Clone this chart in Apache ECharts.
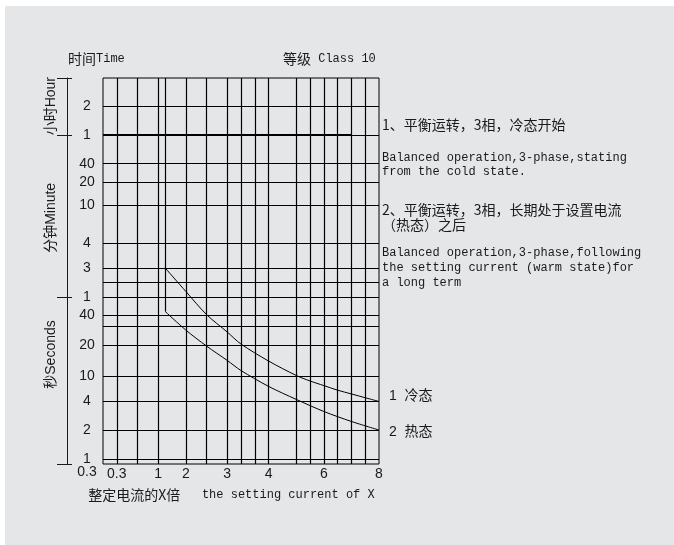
<!DOCTYPE html>
<html>
<head>
<meta charset="utf-8">
<script src="https://cdn.jsdelivr.net/npm/echarts@6/dist/echarts.min.js"></script>
<style>
html, body { margin: 0; padding: 0; }
body {
  width: 674px;
  height: 545px;
  background: #fff linear-gradient(#e5e6e8, #e5e6e8) 5px 6px / 669px 539px no-repeat;
}
#main { width: 674px; height: 545px; }
</style>
</head>
<body>
<div id="main"></div>
<script>
// 横轴：整定电流倍数
var xTickVal = [0.3, 1, 2, 3, 4, 6, 8];
var xTickLabel = ["0.3", "1", "2", "3", "4", "6", "8"];
var xGridVal = [0.3, 0.65, 1, 2, 2.5, 3, 3.33, 3.67, 4, 5, 5.5, 6, 6.5, 7, 7.5];

// 纵轴：时间（秒）
var yGridSec = [1, 2, 4, 10, 20, 30, 40, 60, 120, 180, 240, 600, 1200, 2400, 3600, 7200];
var yLabelSec = [1, 2, 4, 10, 20, 40, 60, 180, 240, 600, 1200, 2400, 3600, 7200];
var yLabelText = ["1", "2", "4", "10", "20", "40", "1", "3", "4", "10", "20", "40", "1", "2"];
var cornerSec = 0.3;
var cornerText = "0.3";

// 左侧单位 秒 / 分钟 / 小时
var unitSec = [0.3, 60, 3600, 14400];
var unitLabelSec = [17, 480, 7200];
var unitLabelText = ["秒Seconds", "分钟Minute", "小时Hour"];

// 1 冷态
var coldI = [1.25, 2, 2.5, 3, 3.33, 4, 5, 5.5, 6, 6.5, 7, 7.5, 8];
var coldT = [180, 83, 40.5, 26.8, 20.6, 14.9, 10.3, 8.9, 7.8, 6.7, 5.8, 4.9, 4];
// 2 热态
var warmI = [1.25, 2, 2.5, 3, 3.33, 4, 5, 6, 7, 8];
var warmT = [44, 27.8, 19.7, 15.1, 11.9, 7.6, 4.5, 3.3, 2.6, 2];

// 图上刻度不等距，按分段线性换算到 0~100
var xScaleVal = [0, 0.3, 1, 2, 3, 4, 6, 8];
var xScalePos = [0, 5, 20, 30, 45, 60, 80, 100];
var yScaleSec = [0.3, 1, 2, 4, 10, 20, 30, 40, 60, 120, 180, 240, 600, 1200, 2400, 3600, 7200, 14400];
var yScalePos = [0, 1.3, 8.8, 16.2, 22.7, 30.8, 35.8, 38.6, 43.3, 47.0, 50.8, 57.1, 67.1, 73.0, 77.8, 85.2, 92.7, 100];

function interp(v, vs, ps) {
  for (var i = 0; i < vs.length - 1; i++) {
    if (v <= vs[i + 1] || i == vs.length - 2) {
      return ps[i] + ((v - vs[i]) / (vs[i + 1] - vs[i])) * (ps[i + 1] - ps[i]);
    }
  }
}
function xs(v) { return interp(v, xScaleVal, xScalePos); }
function ys(v) { return interp(v, yScaleSec, yScalePos); }
function pick(v, vals, fn, texts) {
  for (var i = 0; i < vals.length; i++) {
    if (Math.abs(fn(vals[i]) - v) < 1e-6) return texts[i];
  }
  return "";
}

var myChart = echarts.init(document.getElementById("main"));

var gridLines = [];
xGridVal.forEach(function (v) { gridLines.push({ xAxis: xs(v) }); });
yGridSec.forEach(function (v) { gridLines.push({ yAxis: ys(v) }); });
// 1.25倍处竖线只画到热态曲线起点
gridLines.push([{ coord: [xs(1.25), 100] }, { coord: [xs(1.25), ys(warmT[0])] }]);
// 1小时粗线
gridLines.push([
  { coord: [0, ys(3600)], lineStyle: { width: 2, color: "#000" } },
  { coord: [xs(7), ys(3600)] },
]);

var monoFont = "'Liberation Mono', 'DejaVu Sans Mono', 'Noto Sans CJK SC', monospace";
var cjkFont = "'Noto Sans CJK SC', 'Liberation Sans', sans-serif";
var numFont = "'Liberation Sans', 'Noto Sans CJK SC', sans-serif";
var textColor = "#1a1a1a";

var option = {
  animation: false,
  title: [
    {
      text: "{a|时间}{b|Time}",
      left: 68,
      top: 52,
      padding: 0,
      textStyle: {
        fontWeight: "normal",
        rich: {
          a: { fontFamily: cjkFont, fontSize: 14, fontWeight: "normal", color: textColor },
          b: { fontFamily: monoFont, fontSize: 12, fontWeight: "normal", color: textColor },
        },
      },
    },
    {
      text: "{a|等级}{b| Class 10}",
      left: 283,
      top: 52,
      padding: 0,
      textStyle: {
        fontWeight: "normal",
        rich: {
          a: { fontFamily: cjkFont, fontSize: 14, fontWeight: "normal", color: textColor },
          b: { fontFamily: monoFont, fontSize: 12, fontWeight: "normal", color: textColor },
        },
      },
    },
  ],
  grid: {
    left: 103,
    top: 78,
    width: 276,
    height: 386,
    show: true,
    borderColor: "#000",
    borderWidth: 1,
    backgroundColor: "transparent",
  },
  xAxis: {
    type: "value",
    min: 0,
    max: 100,
    axisLine: { show: false },
    axisTick: { show: false },
    splitLine: { show: false },
    axisLabel: {
      customValues: xTickVal.map(xs),
      margin: 3,
      fontFamily: numFont,
      fontSize: 14,
      color: textColor,
      formatter: function (v) { return pick(v, xTickVal, xs, xTickLabel); },
    },
    name: "{a|整定电流的X倍}{b|   the setting current of X}",
    nameLocation: "middle",
    nameGap: 24,
    nameTextStyle: {
      padding: [0, 19, 0, 0],
      rich: {
        a: { fontFamily: cjkFont, fontSize: 14, color: textColor },
        b: { fontFamily: monoFont, fontSize: 12, color: textColor },
      },
    },
  },
  yAxis: [
    {
      type: "value",
      min: 0,
      max: 100,
      axisLine: { show: false },
      axisTick: { show: false },
      splitLine: { show: false },
      axisLabel: {
        customValues: yLabelSec.map(ys),
        align: "center",
        margin: 16,
        fontFamily: numFont,
        fontSize: 14,
        color: textColor,
        formatter: function (v) { return pick(v, yLabelSec, ys, yLabelText); },
      },
    },
    {
      type: "value",
      min: 0,
      max: 100,
      position: "left",
      offset: 36,
      axisLine: { show: true, lineStyle: { color: textColor, width: 1 } },
      axisTick: {
        show: true,
        customValues: unitSec.map(ys),
        length: 10,
        lineStyle: { color: textColor },
      },
      splitLine: { show: false },
      axisLabel: {
        customValues: unitLabelSec.map(ys),
        rotate: 90,
        margin: 9,
        fontFamily: numFont,
        fontSize: 14,
        color: textColor,
        formatter: function (v) { return pick(v, unitLabelSec, ys, unitLabelText); },
      },
    },
    {
      type: "value",
      min: 0,
      max: 100,
      position: "left",
      offset: 36,
      axisLine: { show: false },
      axisTick: {
        show: true,
        inside: true,
        customValues: unitSec.map(ys),
        length: 5,
        lineStyle: { color: textColor },
      },
      splitLine: { show: false },
      axisLabel: {
        inside: true,
        customValues: [ys(cornerSec)],
        align: "center",
        margin: 20,
        fontFamily: numFont,
        fontSize: 14,
        color: textColor,
        formatter: function () { return "{low|" + cornerText + "}"; },
        rich: { low: { padding: [16, 0, 0, 0], fontFamily: numFont, fontSize: 14, color: textColor } },
      },
    },
  ],
  graphic: [
    {
      type: "text",
      left: 382,
      top: 118,
      style: { text: "1、平衡运转，3相，冷态开始", font: "14px " + cjkFont, fill: textColor },
    },
    {
      type: "text",
      left: 382,
      top: 151,
      style: {
        text: "Balanced operation,3-phase,stating\nfrom the cold state.",
        font: "12px " + monoFont,
        lineHeight: 14,
        fill: textColor,
      },
    },
    {
      type: "text",
      left: 382,
      top: 202,
      style: {
        text: "2、平衡运转，3相，长期处于设置电流\n（热态）之后",
        font: "14px " + cjkFont,
        lineHeight: 15,
        fill: textColor,
      },
    },
    {
      type: "text",
      left: 382,
      top: 245,
      style: {
        text: "Balanced operation,3-phase,following\nthe setting current (warm state)for\na long term",
        font: "12px " + monoFont,
        lineHeight: 15,
        fill: textColor,
      },
    },
  ],
  series: [
    {
      name: "1 冷态",
      type: "line",
      yAxisIndex: 0,
      symbol: "none",
      silent: true,
      smooth: 0.3,
      lineStyle: { color: "#000", width: 1 },
      data: coldI.map(function (v, i) { return [xs(v), ys(coldT[i])]; }),
      endLabel: {
        show: true,
        formatter: "1  冷态",
        distance: 0,
        offset: [10, -5],
        fontFamily: numFont,
        fontSize: 14,
        color: textColor,
      },
      markLine: {
        silent: true,
        symbol: ["none", "none"],
        label: { show: false },
        lineStyle: { type: "solid", width: 1.2, color: "#000" },
        data: gridLines,
      },
    },
    {
      name: "2 热态",
      type: "line",
      yAxisIndex: 0,
      symbol: "none",
      silent: true,
      smooth: 0.3,
      lineStyle: { color: "#000", width: 1 },
      data: warmI.map(function (v, i) { return [xs(v), ys(warmT[i])]; }),
      endLabel: {
        show: true,
        formatter: "2  热态",
        distance: 0,
        offset: [10, 2],
        fontFamily: numFont,
        fontSize: 14,
        color: textColor,
      },
    },
  ],
};

myChart.setOption(option);
</script>
</body>
</html>
